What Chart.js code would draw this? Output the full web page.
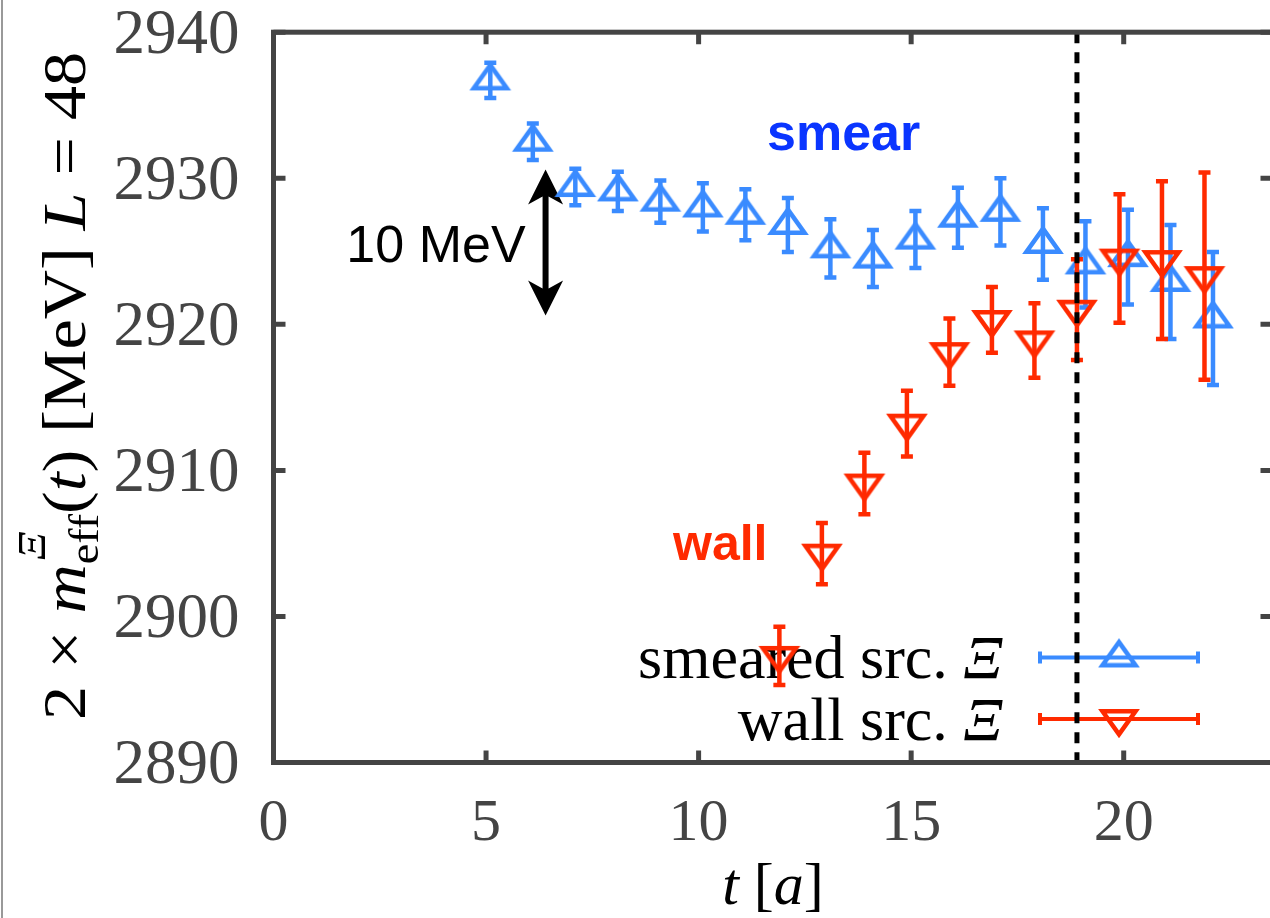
<!DOCTYPE html>
<html>
<head>
<meta charset="utf-8">
<script src="https://cdn.jsdelivr.net/npm/chart.js@4.4.1/dist/chart.umd.min.js"></script>
<style>
  html, body { margin: 0; padding: 0; background: #fff; overflow: hidden; }
  #wrap { position: relative; width: 1270px; height: 918px; overflow: hidden; }
  #meff { position: absolute; left: 0; top: 0; }
</style>
</head>
<body>
<div id="wrap"><canvas id="meff" width="1300" height="918"></canvas></div>
<script>
// effective mass of Xi, smeared source
const tSmear = [5, 6, 7, 8, 9, 10, 11, 12, 13, 14, 15, 16, 17, 18, 19, 20, 21, 22];
const smearVal = [2936.7, 2932.5, 2929.4, 2929.1, 2928.4, 2928.0, 2927.5, 2926.8, 2925.2,
                  2924.5, 2925.8, 2927.3, 2927.7, 2925.5, 2924.1, 2924.6, 2922.9, 2920.4];
const smearErr = [1.2, 1.25, 1.25, 1.35, 1.45, 1.65, 1.75, 1.85, 2.0,
                  1.95, 1.95, 2.05, 2.3, 2.45, 2.95, 3.25, 3.9, 4.55];

// wall source
const tWall = [12, 13, 14, 15, 16, 17, 18, 19, 20, 21, 22];
const wallVal = [2897.3, 2904.3, 2909.1, 2913.2, 2918.1, 2920.3, 2918.9, 2921.0, 2924.5, 2924.4, 2923.3];
const wallErr = [2.0, 2.1, 2.1, 2.25, 2.3, 2.25, 2.55, 3.45, 4.4, 5.4, 7.1];

const xTicks = [0, 5, 10, 15, 20];
const yTicks = [2890, 2900, 2910, 2920, 2930, 2940];
const tCut = 18.9;          // fit window start
const arrowSpan = 10;       // MeV

const BLUE = '#3a8bff';
const RED = '#ff2a00';
const AXIS = '#444';
const SERIF = '"Liberation Serif", "Times New Roman", serif';
const SANS = '"Liberation Sans", Arial, sans-serif';

function triMarker(color, down) {
  const c = document.createElement('canvas');
  c.width = 50; c.height = 50;
  const g = c.getContext('2d');
  const w = 33, h = 23, cx = 25, cy = 25;
  g.strokeStyle = color;
  g.lineWidth = 4.5;
  g.lineJoin = 'miter';
  g.beginPath();
  if (down) {
    g.moveTo(cx, cy + 2 * h / 3);
    g.lineTo(cx + w / 2, cy - h / 3);
    g.lineTo(cx - w / 2, cy - h / 3);
  } else {
    g.moveTo(cx, cy - 2 * h / 3);
    g.lineTo(cx + w / 2, cy + h / 3);
    g.lineTo(cx - w / 2, cy + h / 3);
  }
  g.closePath();
  g.stroke();
  return c;
}
const upTri = triMarker(BLUE, false);
const downTri = triMarker(RED, true);

// draws a row of text pieces with their own fonts; returns the total advance
function richText(ctx, parts, draw) {
  let x = 0;
  for (const p of parts) {
    ctx.font = p.font;
    const w = ctx.measureText(p.text).width;
    if (draw) ctx.fillText(p.text, x + (p.dx || 0), p.dy || 0);
    if (!p.stack) x += w;
  }
  return x;
}

const errorBars = {
  id: 'errorBars',
  beforeDatasetDraw(chart, args) {
    const ds = chart.data.datasets[args.index];
    if (!ds.errors) return;
    const { ctx, scales: { x, y } } = chart;
    ctx.save();
    ctx.strokeStyle = ds.barColor;
    ctx.lineWidth = 4.5;
    ds.data.forEach((p, i) => {
      const px = x.getPixelForValue(p.x);
      const top = y.getPixelForValue(p.y + ds.errors[i]);
      const bot = y.getPixelForValue(p.y - ds.errors[i]);
      ctx.beginPath();
      ctx.moveTo(px, top); ctx.lineTo(px, bot);
      ctx.moveTo(px - 6, top); ctx.lineTo(px + 6, top);
      ctx.moveTo(px - 6, bot); ctx.lineTo(px + 6, bot);
      ctx.stroke();
    });
    ctx.restore();
  }
};

const decorations = {
  id: 'decorations',
  beforeDatasetsDraw(chart) {
    const { ctx, scales: { x, y } } = chart;
    ctx.save();

    // key, text right aligned, sample line with caps and marker
    const rows = [
      { label: 'smeared src. ', color: BLUE, img: upTri, ly: 657.5, base: 678 },
      { label: 'wall src. ', color: RED, img: downTri, ly: 719, base: 740 }
    ];
    rows.forEach(r => {
      ctx.fillStyle = '#000';
      ctx.textBaseline = 'alphabetic';
      ctx.font = '62px ' + SERIF;
      const w1 = ctx.measureText(r.label).width;
      ctx.font = 'italic 62px ' + SERIF;
      const w2 = ctx.measureText('Ξ').width;
      const x0 = 1003 - w1 - w2;
      ctx.font = '62px ' + SERIF;
      ctx.fillText(r.label, x0, r.base);
      ctx.font = 'italic 62px ' + SERIF;
      ctx.fillText('Ξ', x0 + w1, r.base);

      ctx.strokeStyle = r.color;
      ctx.lineWidth = 4;
      ctx.beginPath();
      ctx.moveTo(1038, r.ly); ctx.lineTo(1200, r.ly);
      ctx.moveTo(1040, r.ly - 6); ctx.lineTo(1040, r.ly + 6);
      ctx.moveTo(1198, r.ly - 6); ctx.lineTo(1198, r.ly + 6);
      ctx.stroke();
      ctx.drawImage(r.img, 1119 - 25, r.ly - 25);
    });

    // series names inside the plot
    ctx.font = 'bold 52px ' + SANS;
    ctx.fillStyle = '#0a35ff';
    ctx.fillText('smear', 767, 150);
    ctx.font = 'bold 50px ' + SANS;
    ctx.fillStyle = RED;
    ctx.fillText('wall', 673, 560);

    // 10 MeV scale arrow
    const ax = x.getPixelForValue(6.4);
    const yT = y.getPixelForValue(2925.6 + arrowSpan / 2);
    const yB = y.getPixelForValue(2925.6 - arrowSpan / 2);
    ctx.fillStyle = '#000';
    ctx.beginPath();
    ctx.moveTo(ax, yT);
    ctx.lineTo(ax + 17.5, yT + 35);
    ctx.lineTo(ax + 3, yT + 27);
    ctx.lineTo(ax + 3, yB - 27);
    ctx.lineTo(ax + 17.5, yB - 35);
    ctx.lineTo(ax, yB);
    ctx.lineTo(ax - 17.5, yB - 35);
    ctx.lineTo(ax - 3, yB - 27);
    ctx.lineTo(ax - 3, yT + 27);
    ctx.lineTo(ax - 17.5, yT + 35);
    ctx.closePath();
    ctx.fill();
    ctx.font = '52px ' + SANS;
    ctx.textAlign = 'right';
    ctx.fillText('10 MeV', ax - 20, 262);
    ctx.restore();
  },
  afterDatasetsDraw(chart) {
    const { ctx, chartArea: a, scales: { x, y } } = chart;
    ctx.save();

    // fit window marker
    const cx = x.getPixelForValue(tCut);
    ctx.strokeStyle = '#000';
    ctx.lineWidth = 5;
    ctx.setLineDash([11, 9]);
    ctx.beginPath();
    ctx.moveTo(cx, a.top);
    ctx.lineTo(cx, a.bottom);
    ctx.stroke();
    ctx.setLineDash([]);

    // border and inward ticks on all four sides
    ctx.strokeStyle = AXIS;
    ctx.lineWidth = 5;
    ctx.strokeRect(a.left, a.top, a.right - a.left, a.bottom - a.top);
    ctx.beginPath();
    x.ticks.forEach(t => {
      const px = x.getPixelForValue(t.value);
      ctx.moveTo(px, a.bottom); ctx.lineTo(px, a.bottom - 12);
      ctx.moveTo(px, a.top); ctx.lineTo(px, a.top + 12);
    });
    y.ticks.forEach(t => {
      const py = y.getPixelForValue(t.value);
      ctx.moveTo(a.left, py); ctx.lineTo(a.left + 12, py);
      ctx.moveTo(a.right, py); ctx.lineTo(a.right - 12, py);
    });
    ctx.stroke();
    ctx.restore();
  },
  afterDraw(chart) {
    const { ctx, chartArea: a } = chart;
    ctx.save();
    ctx.fillStyle = '#000';
    ctx.textBaseline = 'alphabetic';

    // t [a]
    const xt = [
      { text: 't', font: 'italic 60px ' + SERIF },
      { text: ' [', font: '60px ' + SERIF },
      { text: 'a', font: 'italic 60px ' + SERIF },
      { text: ']', font: '60px ' + SERIF }
    ];
    const wx = richText(ctx, xt, false);
    ctx.translate((a.left + a.right) / 2 - wx / 2, 904);
    richText(ctx, xt, true);
    ctx.setTransform(1, 0, 0, 1, 0, 0);

    // 2 x m_eff^Xi(t) [MeV] L = 48
    const yt = [
      { text: '2 × ', font: '62px ' + SERIF },
      { text: 'm', font: 'italic 62px ' + SERIF },
      { text: 'Ξ', font: 'italic 40px ' + SERIF, dy: -40, dx: 4, stack: true },
      { text: 'eff', font: '42px ' + SERIF, dy: 13 },
      { text: '(', font: '62px ' + SERIF },
      { text: 't', font: 'italic 62px ' + SERIF },
      { text: ') [MeV] ', font: '62px ' + SERIF },
      { text: 'L', font: 'italic 62px ' + SERIF },
      { text: ' = 48', font: '62px ' + SERIF }
    ];
    const wy = richText(ctx, yt, false);
    const span = 668;
    ctx.translate(85, 386);
    ctx.rotate(-Math.PI / 2);
    ctx.scale(span / wy, 1);
    ctx.translate(-wy / 2, 0);
    richText(ctx, yt, true);
    ctx.setTransform(1, 0, 0, 1, 0, 0);

    // page edge rule
    ctx.strokeStyle = '#999';
    ctx.lineWidth = 2;
    ctx.beginPath();
    ctx.moveTo(2, 0); ctx.lineTo(2, 918);
    ctx.stroke();
    ctx.restore();
  }
};

new Chart(document.getElementById('meff'), {
  type: 'scatter',
  data: {
    datasets: [
      {
        label: 'smeared src. Ξ',
        data: tSmear.map((t, i) => ({ x: t + 0.1, y: smearVal[i] })),
        errors: smearErr,
        barColor: BLUE,
        pointStyle: upTri,
        pointRadius: 15,
        showLine: false,
        order: 2
      },
      {
        label: 'wall src. Ξ',
        data: tWall.map((t, i) => ({ x: t - 0.1, y: wallVal[i] })),
        errors: wallErr,
        barColor: RED,
        pointStyle: downTri,
        pointRadius: 15,
        showLine: false,
        order: 1
      }
    ]
  },
  options: {
    responsive: false,
    devicePixelRatio: 1,
    animation: false,
    events: [],
    layout: { padding: { top: 32.2, right: 27.5, left: 0, bottom: 0 } },
    plugins: { legend: { display: false }, tooltip: { enabled: false } },
    scales: {
      x: {
        type: 'linear',
        min: 0,
        max: 23.5,
        afterBuildTicks: s => { s.ticks = xTicks.map(v => ({ value: v })); },
        afterFit: s => { s.height = 155.5; s.paddingLeft = 0; s.paddingRight = 0; },
        grid: { display: false, drawTicks: false },
        border: { display: false },
        ticks: { font: { family: SERIF, size: 60 }, color: AXIS, padding: 26, maxRotation: 0,
                 autoSkip: false, callback: v => String(v) }
      },
      y: {
        min: 2890,
        max: 2940,
        afterBuildTicks: s => { s.ticks = yTicks.map(v => ({ value: v })); },
        afterFit: s => { s.width = 273.5; s.paddingTop = 0; s.paddingBottom = 0; },
        grid: { display: false, drawTicks: false },
        border: { display: false },
        ticks: { font: { family: SERIF, size: 63 }, color: AXIS, padding: 34, labelOffset: 4,
                 callback: v => String(v) }
      }
    }
  },
  plugins: [errorBars, decorations]
});
</script>
</body>
</html>
